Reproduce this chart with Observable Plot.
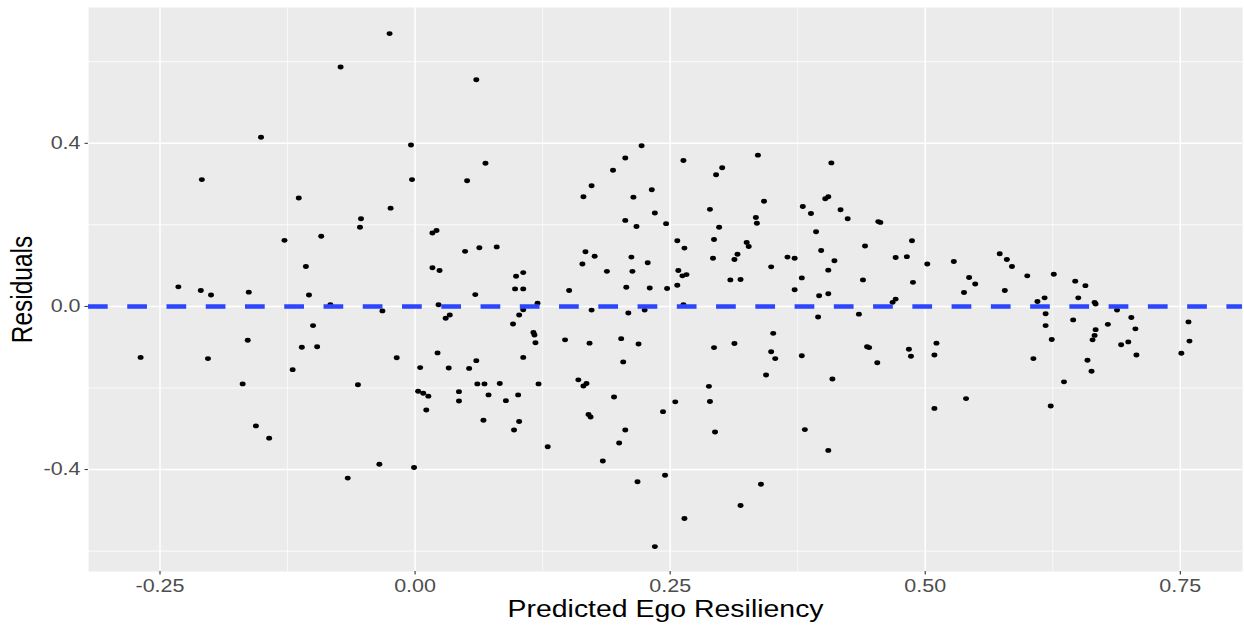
<!DOCTYPE html>
<html>
<head>
<meta charset="utf-8">
<script src="https://cdn.jsdelivr.net/npm/d3@7"></script>
<script src="https://cdn.jsdelivr.net/npm/@observablehq/plot@0.6"></script>
<style>
  html, body { margin: 0; padding: 0; background: #ffffff; overflow: hidden; }
  #chart { width: 1244px; height: 626px; }
</style>
</head>
<body>
<div id="chart"></div>
<script>
// Tick values
const xTicks = [-0.25, 0, 0.25, 0.5, 0.75];
const xMinor = [-0.125, 0.125, 0.375, 0.625];
const yTicks = [-0.4, 0, 0.4];
const yMinor = [-0.6, -0.2, 0.2, 0.6];
const xTitle = "Predicted Ego Resiliency";
const yTitle = "Residuals";
const refLine = [0];

// Series values
const predicted = [
  -0.025, -0.073, -0.151, -0.209, -0.114, -0.004, -0.003, -0.024, -0.053, -0.054,
  -0.128, -0.092, -0.107, -0.232, -0.210, -0.200, -0.163, -0.104, -0.083, -0.032,
  -0.269, -0.203, -0.164, -0.169, -0.120, -0.111, -0.100, -0.096, -0.156, -0.143,
  -0.056, -0.018, -0.066, -0.035, -0.001, 0.060, 0.069, 0.051, 0.017, 0.021,
  0.049, 0.063, 0.080, 0.017, 0.024, 0.099, 0.106, 0.098, 0.106, 0.059,
  0.023, 0.120, 0.106, 0.165, 0.173, 0.194, 0.167, 0.176, 0.164, 0.188,
  0.151, 0.173, 0.030, 0.034, 0.102, 0.096, 0.116, 0.117, 0.118, 0.147,
  0.171, 0.202, 0.022, 0.005, 0.033, 0.053, 0.060, 0.106, 0.061, 0.068,
  0.083, 0.121, 0.160, 0.165, 0.168, 0.003, 0.008, 0.013, 0.043, 0.043,
  0.072, 0.089, 0.101, 0.011, 0.067, 0.097, 0.102, 0.170, 0.172, 0.195,
  0.130, 0.184, 0.200, 0.206, 0.222, 0.214, 0.232, 0.206, 0.217, 0.235,
  0.246, 0.212, 0.213, 0.228, 0.207, 0.230, 0.247, 0.225, 0.263, 0.257,
  0.264, 0.258, 0.262, 0.266, 0.257, 0.263, 0.295, 0.301, 0.289, 0.298,
  0.293, 0.292, 0.309, 0.319, 0.313, 0.316, 0.325, 0.327, 0.336, 0.342,
  0.334, 0.335, 0.349, 0.365, 0.372, 0.379, 0.372, 0.380, 0.388, 0.393,
  0.398, 0.405, 0.396, 0.405, 0.402, 0.405, 0.408, 0.209, 0.219, 0.204,
  0.206, 0.218, 0.245, 0.243, 0.255, 0.264, 0.235, 0.293, 0.313, 0.288,
  0.289, 0.294, 0.319, 0.339, 0.351, 0.349, 0.353, 0.344, 0.379, 0.382,
  0.395, 0.405, 0.409, 0.435, 0.468, 0.443, 0.445, 0.453, 0.484, 0.486,
  0.511, 0.509, 0.509, 0.540, 0.610, 0.618, 0.618, 0.624, 0.606, 0.636,
  0.623, 0.645, 0.666, 0.667, 0.688, 0.702, 0.667, 0.666, 0.664, 0.679,
  0.706, 0.699, 0.692, 0.707, 0.659, 0.663, 0.758, 0.759, 0.751, 0.417,
  0.424, 0.454, 0.456, 0.441, 0.411, 0.439, 0.471, 0.482, 0.487, 0.488,
  0.502, 0.471, 0.528, 0.543, 0.549, 0.538, 0.573, 0.580, 0.585, 0.578,
  0.600, 0.626, 0.617, 0.647, 0.657, 0.650
];
const residuals = [
  0.669, 0.587, 0.415, 0.311, 0.266, 0.396, 0.311, 0.241, 0.215, 0.194,
  0.162, 0.172, 0.098, 0.048, 0.039, 0.028, 0.035, 0.028, 0.004, -0.011,
  -0.125, -0.128, -0.083, -0.190, -0.155, -0.100, -0.047, -0.099, -0.293, -0.323,
  -0.192, -0.126, -0.421, -0.387, -0.395, 0.556, 0.351, 0.308, 0.180, 0.186,
  0.135, 0.144, 0.146, 0.095, 0.088, 0.074, 0.083, 0.043, 0.043, 0.029,
  0.004, 0.008, -0.008, 0.269, 0.296, 0.334, 0.134, 0.123, 0.104, 0.086,
  0.039, -0.009, -0.029, -0.021, -0.021, -0.043, -0.064, -0.070, -0.089, -0.082,
  -0.090, -0.079, -0.114, -0.150, -0.151, -0.152, -0.133, -0.125, -0.190, -0.190,
  -0.189, -0.190, -0.180, -0.195, -0.189, -0.208, -0.213, -0.220, -0.209, -0.232,
  -0.217, -0.231, -0.217, -0.254, -0.279, -0.303, -0.282, -0.265, -0.271, -0.222,
  -0.344, -0.379, -0.335, 0.364, 0.394, 0.268, 0.286, 0.211, 0.196, 0.229,
  0.203, 0.121, 0.086, 0.107, 0.047, 0.045, 0.044, -0.009, 0.358, 0.161,
  0.143, 0.088, 0.075, 0.078, 0.052, 0.004, 0.323, 0.340, 0.238, 0.194,
  0.164, 0.118, 0.065, 0.066, 0.115, 0.128, 0.157, 0.147, 0.371, 0.258,
  0.218, 0.204, 0.097, 0.121, 0.118, 0.070, 0.041, 0.245, 0.228, 0.183,
  0.137, 0.089, 0.026, 0.031, 0.264, 0.269, 0.352, -0.016, -0.092, -0.136,
  -0.303, -0.430, -0.414, -0.258, -0.234, -0.520, -0.589, -0.101, -0.091, -0.196,
  -0.233, -0.308, -0.488, -0.436, -0.066, -0.111, -0.128, -0.168, -0.121, -0.302,
  -0.026, -0.353, -0.178, -0.019, 0.010, -0.099, -0.101, -0.138, -0.105, -0.122,
  -0.090, -0.119, -0.250, -0.226, 0.012, -0.018, -0.047, -0.081, -0.128, -0.185,
  -0.244, -0.033, 0.010, 0.006, -0.009, -0.027, -0.057, -0.071, -0.082, -0.044,
  -0.055, -0.087, -0.094, -0.119, -0.132, -0.159, -0.038, -0.085, -0.115, 0.237,
  0.215, 0.208, 0.206, 0.148, 0.112, 0.065, 0.120, 0.122, 0.161, 0.059,
  0.104, 0.018, 0.110, 0.071, 0.055, 0.034, 0.129, 0.115, 0.098, 0.039,
  0.075, 0.079, 0.021, 0.062, 0.051, 0.021
];

const points = predicted.map((x, i) => ({x, y: residuals[i]}));

// The reference is horizontally stretched: draw at a narrower width, then stretch to 1244px.
const outW = 1244, outH = 626;
const innerW = 1028;

const plot = Plot.plot({
  width: innerW,
  height: outH,
  marginLeft: 72.7,
  marginRight: 1.7,
  marginTop: 7,
  marginBottom: 55,
  x: {domain: [-0.320, 0.811]},
  y: {domain: [-0.650, 0.733]},
  style: {fontFamily: "'Liberation Sans', Arial, sans-serif", background: "#ffffff", color: "#000000"},
  marks: [
    Plot.frame({fill: "#ebebeb", stroke: "none"}),
    Plot.gridX(xMinor, {stroke: "#ffffff", strokeOpacity: 1, strokeWidth: 0.6}),
    Plot.gridY(yMinor, {stroke: "#ffffff", strokeOpacity: 1, strokeWidth: 0.75}),
    Plot.gridX(xTicks, {stroke: "#ffffff", strokeOpacity: 1, strokeWidth: 1.25}),
    Plot.gridY(yTicks, {stroke: "#ffffff", strokeOpacity: 1, strokeWidth: 1.5}),
    Plot.dot(points, {x: "x", y: "y", r: 2.45, fill: "#000000", stroke: "none"}),
    Plot.ruleY(refLine, {stroke: "#2c46ff", strokeWidth: 4.5, strokeDasharray: "16.3,16.14"}),
    Plot.axisX(xTicks, {tickFormat: d => d.toFixed(2), tickSize: 3.5, tickPadding: 4.5, fontSize: 17.8,
      fill: "#4d4d4d", stroke: "#333333", strokeWidth: 0.9, label: null}),
    Plot.axisY(yTicks, {tickFormat: d => d.toFixed(1), tickSize: 2.9, tickPadding: 3.7, fontSize: 17.8,
      fill: "#4d4d4d", stroke: "#333333", strokeWidth: 1, label: null}),
    Plot.text([xTitle], {text: d => d, frameAnchor: "bottom", dy: 45, lineAnchor: "bottom",
      fontSize: 23.5, fill: "#000000"}),
    Plot.text([yTitle], {text: d => d, frameAnchor: "left", rotate: -90, dx: -46.5, lineAnchor: "bottom",
      textAnchor: "middle", fontSize: 24.5, fill: "#000000"})
  ]
});

plot.setAttribute("preserveAspectRatio", "none");
plot.setAttribute("width", outW);
plot.setAttribute("height", outH);
plot.style.width = outW + "px";
plot.style.height = outH + "px";
plot.style.maxWidth = "none";
plot.style.display = "block";
document.getElementById("chart").appendChild(plot);
</script>
</body>
</html>
